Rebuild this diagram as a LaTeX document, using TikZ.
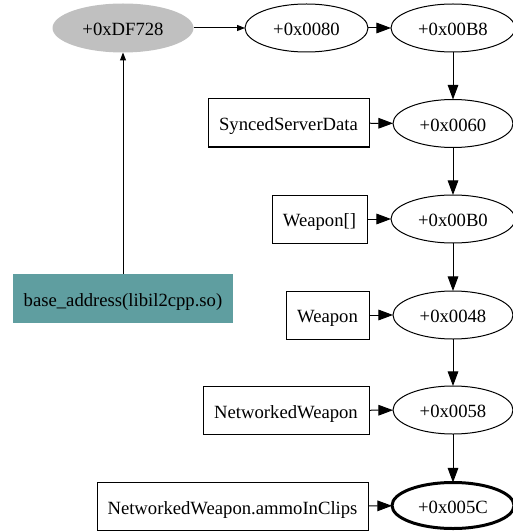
\documentclass[tikz,border=0pt]{standalone}
\usepackage{fontspec}
\setmainfont{Liberation Serif}
\usetikzlibrary{shapes.geometric,arrows.meta}
\definecolor{grayfill}{HTML}{C0C0C0}
\definecolor{teal5}{HTML}{5F9EA0}
\begin{document}
\begin{tikzpicture}[x=0.75pt,y=-0.75pt,
  every node/.style={font=\fontsize{14pt}{16pt}\selectfont, inner sep=0pt, outer sep=0pt, text height=11.5pt, text depth=0pt},
  ell/.style={ellipse, draw, line width=0.75pt, minimum width=#1*0.75pt, minimum height=36pt},
  ell/.default=120,
  boxn/.style={rectangle, draw, line width=0.75pt, minimum width=#1*0.75pt, minimum height=36pt},
  bigarr/.style={line width=0.75pt, -{Triangle[length=11pt,width=8pt]}},
  smallarr/.style={line width=0.75pt, -{Triangle[length=6pt,width=4.5pt]}}
]
\useasboundingbox (0,0) rectangle (513,531);
\node[ell=141, draw=none, fill=grayfill, minimum height=36.75pt] (df) at (123,28) {+0xDF728};
\node[ell=123] (a80) at (306.5,28) {+0x0080};
\node[ell=124] (ab8) at (453,28) {+0x00B8};
\node[boxn=161] (ssd) at (288.5,123) {SyncedServerData};
\node[ell=120] (a60) at (453,123.5) {+0x0060};
\node[boxn=95] (wa) at (319.5,219) {Weapon[]};
\node[ell=124] (ab0) at (453,219) {+0x00B0};
\node[rectangle, fill=teal5, minimum width=165pt, minimum height=36.75pt] (base) at (123,298.5) {base\_address(libil2cpp.so)};
\node[boxn=83] (w) at (327.5,315) {Weapon};
\node[ell=120] (a48) at (453,315) {+0x0048};
\node[boxn=166] (nw) at (286,410.5) {NetworkedWeapon};
\node[ell=120] (a58) at (453,410) {+0x0058};
\node[boxn=271] (nwa) at (232.5,506.5) {NetworkedWeapon.ammoInClips};
\node[ell=122, line width=2.25pt, minimum height=34.5pt] (a5c) at (453,505.5) {+0x005C};

\draw[smallarr] (base) -- (df);
\draw[smallarr] (df) -- (a80);
\draw[bigarr] (a80) -- (ab8);
\draw[bigarr] (ab8) -- (a60);
\draw[bigarr] (ssd) -- (a60);
\draw[bigarr] (a60) -- (ab0);
\draw[bigarr] (wa) -- (ab0);
\draw[bigarr] (ab0) -- (a48);
\draw[bigarr] (w) -- (a48);
\draw[bigarr] (a48) -- (a58);
\draw[bigarr] (nw) -- (a58);
\draw[bigarr] (a58) -- (a5c);
\draw[bigarr] (nwa) -- (a5c);
\end{tikzpicture}
\end{document}
